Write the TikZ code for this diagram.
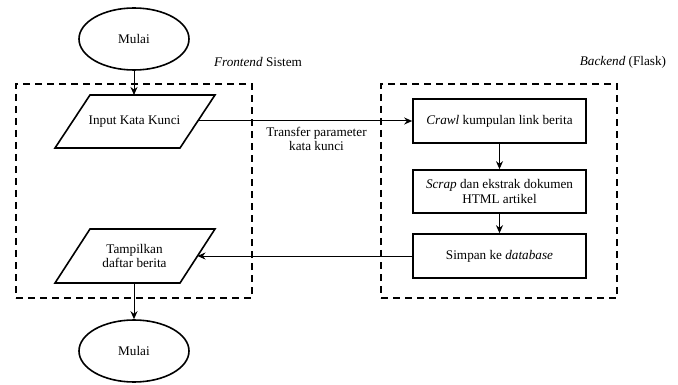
\documentclass[tikz,border=0pt]{standalone}
\usepackage{fontspec}
\newfontfamily\tnr{Liberation Serif}
\usetikzlibrary{shapes.geometric,arrows.meta}
\begin{document}
\begin{tikzpicture}[x=1pt,y=-1pt,
  every node/.style={font=\tnr\fontsize{13.2}{14.5}\selectfont},
  term/.style={draw,ellipse,line width=1.6pt,minimum width=110pt,minimum height=62pt,inner sep=0pt},
  iotext/.style={inner sep=0pt,align=center},
  ioshape/.style={draw,line width=1.6pt,line join=miter},
  proc/.style={draw,rectangle,line width=1.6pt,minimum width=173pt,minimum height=44pt,inner sep=0pt,align=center},
  group/.style={draw,line width=2.2pt,dash pattern=on 7pt off 5pt},
  conn/.style={line width=1pt,-{Stealth[length=8pt,width=7pt]}},
  lbl/.style={inner sep=0pt}]
\useasboundingbox (0,0) rectangle (678,385);
\node[group,minimum width=236pt,minimum height=214pt,inner sep=0pt] (fe) at (134,191) {};
\node[group,minimum width=236pt,minimum height=214pt,inner sep=0pt] (be) at (499,191) {};
\node[lbl] (felbl) at (258,62) {\textit{Frontend} Sistem};
\node[lbl] (belbl) at (623,62) {\textit{Backend} (Flask)};
\node[term] (start) at (134,39) {Mulai};
% input parallelogram
\coordinate (inp-tl) at (90,95);
\coordinate (inp-tr) at (215,95);
\coordinate (inp-br) at (180,148);
\coordinate (inp-bl) at (55,148);
\draw[ioshape] (inp-tl) -- (inp-tr) -- (inp-br) -- (inp-bl) -- cycle;
\node[iotext] (inp) at (134.5,121.5) {Input Kata Kunci};
\coordinate (inp-t) at (134,95);
\coordinate (inp-r) at (197.5,121);
% output parallelogram
\coordinate (out-tl) at (90,229);
\coordinate (out-tr) at (215,229);
\coordinate (out-br) at (180,283);
\coordinate (out-bl) at (55,283);
\draw[ioshape] (out-tl) -- (out-tr) -- (out-br) -- (out-bl) -- cycle;
\node[iotext] (out) at (134.5,256) {Tampilkan\\daftar berita};
\coordinate (out-r) at (197.5,256);
\coordinate (out-b) at (134,283);
\node[term] (end) at (134,351) {Mulai};
\node[proc] (crawl) at (499.5,121) {\textit{Crawl} kumpulan link berita};
\node[proc,minimum height=43pt] (scrap) at (499.5,191.5) {\textit{Scrap} dan ekstrak dokumen\\HTML artikel};
\node[proc] (save) at (499.5,256) {Simpan ke \textit{database}};
\node[lbl,align=center] (tlbl) at (316.5,139) {Transfer parameter\\kata kunci};
\draw[conn] (start) -- (inp-t);
\draw[conn] (inp-r) -- (crawl.west);
\draw[conn] (crawl) -- (scrap);
\draw[conn] (scrap) -- (save);
\draw[conn] (save.west) -- (out-r);
\draw[conn] (out-b) -- (end);
\end{tikzpicture}
\end{document}
